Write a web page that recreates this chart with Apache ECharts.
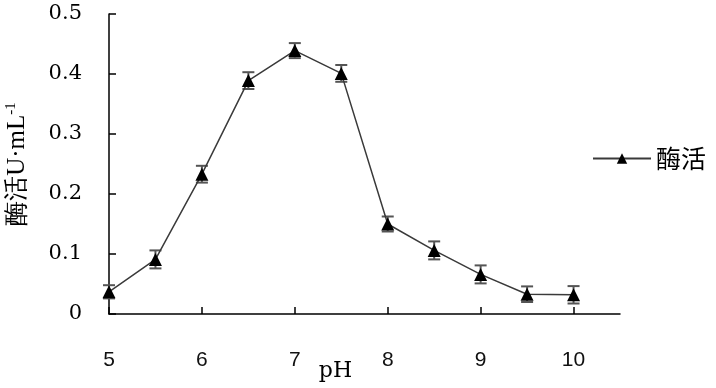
<!DOCTYPE html>
<html>
<head>
<meta charset="utf-8">
<script src="https://cdn.jsdelivr.net/npm/echarts@6/dist/echarts.min.js"></script>
<style>html,body{margin:0;padding:0;background:#fff;}#c{width:716px;height:388px;}</style>
</head>
<body>
<div id="c"></div>
<script>
const phValues = [5, 5.5, 6, 6.5, 7, 7.5, 8, 8.5, 9, 9.5, 10];
const activity = [0.037, 0.091, 0.233, 0.389, 0.439, 0.401, 0.150, 0.106, 0.066, 0.033, 0.032];
const errors = [0.011, 0.015, 0.014, 0.014, 0.0125, 0.014, 0.0125, 0.015, 0.015, 0.013, 0.0145];
const xTicks = [5, 6, 7, 8, 9, 10];
const seriesName = '酶活';

const lineData = phValues.map((x, i) => [x, activity[i]]);
const errData = phValues.map((x, i) => [x, activity[i] - errors[i], activity[i] + errors[i]]);

const chart = echarts.init(document.getElementById('c'), null, {renderer: 'canvas'});
chart.setOption({
  animation: false,
  backgroundColor: '#fff',
  grid: {left: 109, right: 96, top: 14, bottom: 74, containLabel: false, outerBoundsMode: 'none'},
  legend: {
    data: [seriesName],
    left: 587, top: 141,
    itemWidth: 58, itemHeight: 13,
    itemGap: 6,
    textStyle: {fontFamily: 'Noto Sans CJK SC', fontSize: 25, color: '#000'}
  },
  xAxis: {
    type: 'value', min: 5, max: 10.5, interval: 1,
    name: 'pH', nameLocation: 'middle', nameGap: 46, nameMoveOverlap: false,
    nameTextStyle: {fontFamily: 'DejaVu Serif', fontSize: 22, color: '#000', padding: [0, 58, 0, 0]},
    axisLine: {show: true, lineStyle: {color: '#000', width: 1.5}},
    axisTick: {show: true, inside: true, length: 7, customValues: xTicks, lineStyle: {color: '#000', width: 1.5}},
    axisLabel: {customValues: xTicks, margin: 36, fontFamily: 'Liberation Sans', fontSize: 21, color: '#111'},
    splitLine: {show: false}
  },
  yAxis: {
    type: 'value', min: 0, max: 0.5, interval: 0.1,
    name: '酶活U·mL{sup|-1}', nameLocation: 'middle', nameGap: 78, nameMoveOverlap: false,
    nameTextStyle: {fontFamily: 'Liberation Serif', fontSize: 25, color: '#000',
      rich: {sup: {fontFamily: 'Liberation Serif', fontSize: 15, color: '#000', verticalAlign: 'top', padding: [0, 0, 12, 0]}}},
    axisLine: {show: true, lineStyle: {color: '#000', width: 1.5}},
    axisTick: {show: true, inside: true, length: 7, lineStyle: {color: '#000', width: 1.5}},
    axisLabel: {margin: 27, fontFamily: 'DejaVu Serif', fontSize: 21, color: '#000'},
    splitLine: {show: false}
  },
  series: [
    {
      type: 'custom',
      name: 'err',
      z: 1,
      data: errData,
      encode: {x: 0, y: [1, 2]},
      renderItem: function (params, api) {
        const x = api.value(0);
        const lo = api.coord([x, api.value(1)]);
        const hi = api.coord([x, api.value(2)]);
        const hw = 6;
        const style = {stroke: '#555', lineWidth: 2, fill: null};
        return {
          type: 'group',
          children: [
            {type: 'line', shape: {x1: lo[0], y1: lo[1], x2: hi[0], y2: hi[1]}, style: style},
            {type: 'line', shape: {x1: lo[0] - hw, y1: lo[1], x2: lo[0] + hw, y2: lo[1]}, style: style},
            {type: 'line', shape: {x1: hi[0] - hw, y1: hi[1], x2: hi[0] + hw, y2: hi[1]}, style: style}
          ]
        };
      }
    },
    {
      type: 'line',
      name: seriesName,
      z: 3,
      data: lineData,
      symbol: 'triangle',
      symbolSize: 13,
      itemStyle: {color: '#000'},
      lineStyle: {color: '#3a3a3a', width: 1.5}
    }
  ]
});
</script>
</body>
</html>
